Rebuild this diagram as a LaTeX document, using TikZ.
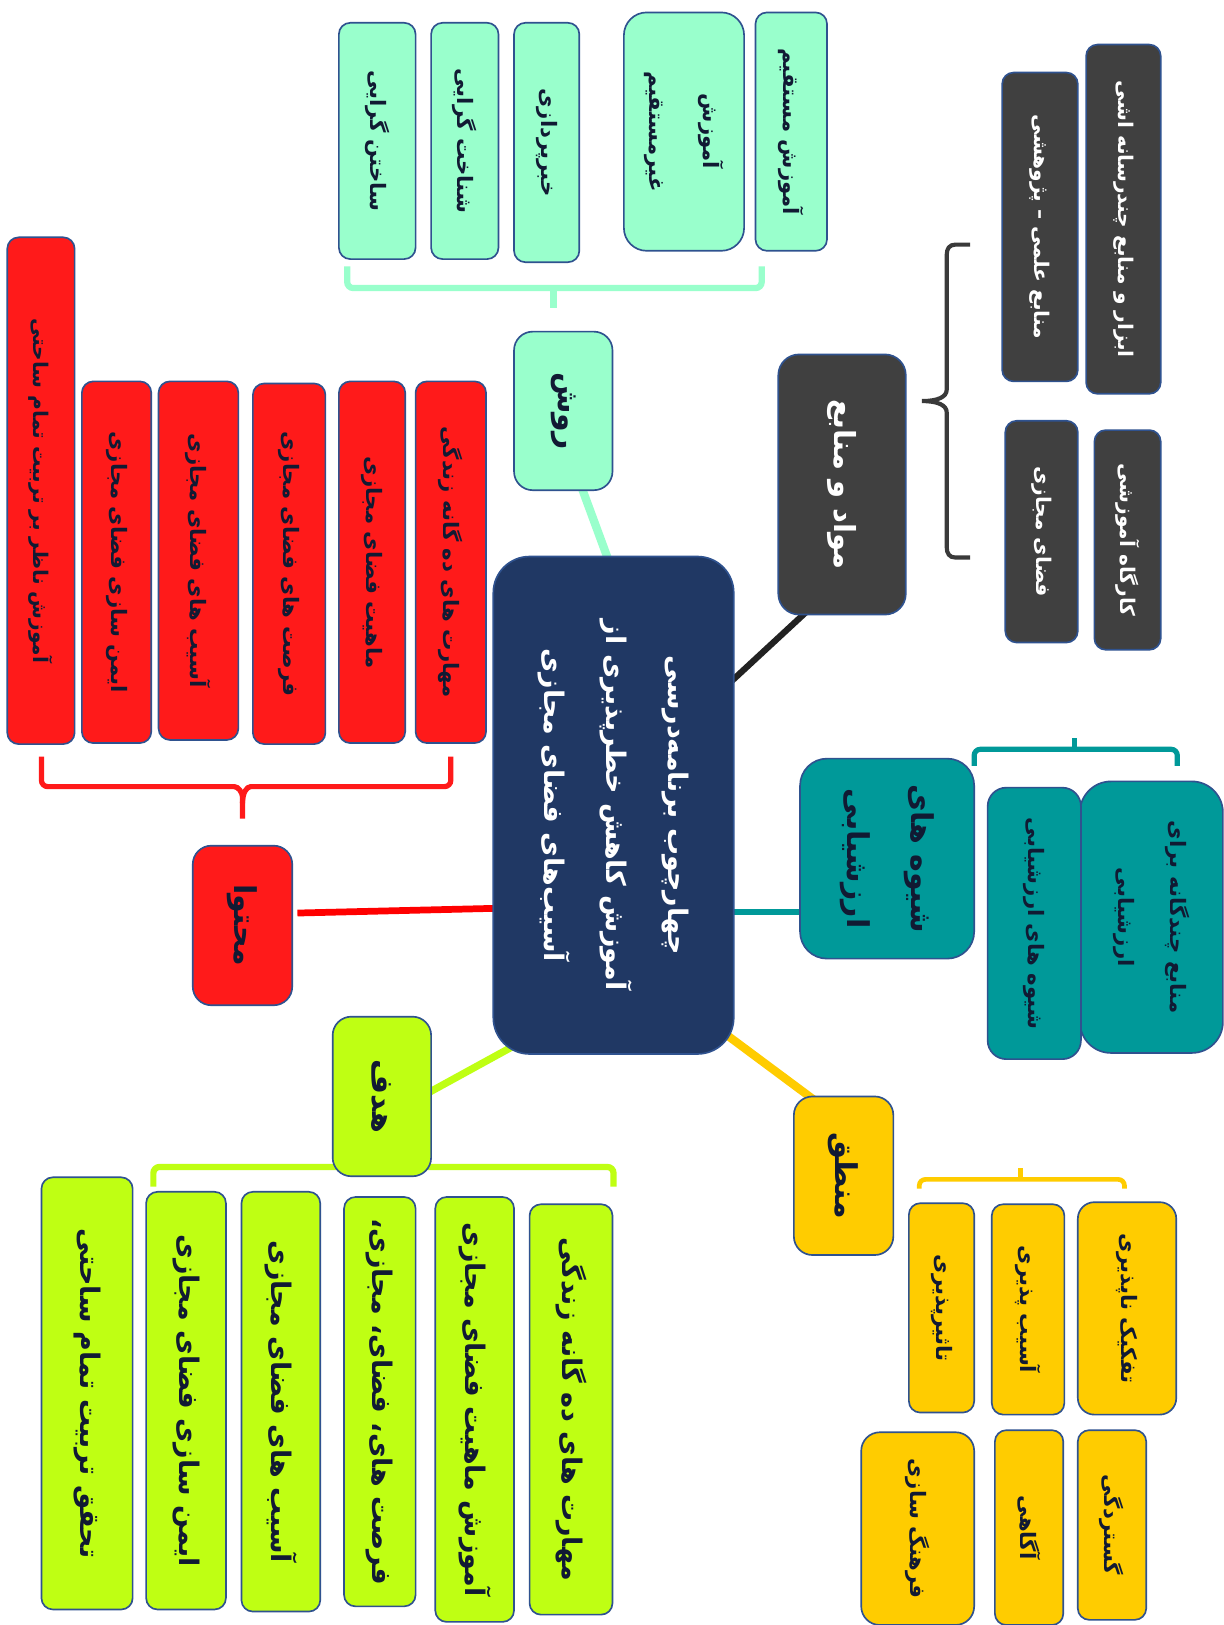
\documentclass[tikz,border=0pt]{standalone}
\usepackage{fontspec}
\newfontfamily\arabicfont[Script=Arabic]{DejaVu Sans}
\TeXXeTstate=1
\usetikzlibrary{calc,backgrounds}
\newcommand{\fa}[1]{\beginR #1\endR}
\newcommand{\fs}[2]{\arabicfont\bfseries\fontsize{#1}{#2}\selectfont}
\definecolor{bord}{HTML}{2F528F}
\definecolor{txt}{HTML}{111A33}
\definecolor{cnavy}{HTML}{203864}
\definecolor{cdark}{HTML}{404040}
\definecolor{cmint}{HTML}{99FFCC}
\definecolor{cred}{HTML}{FF1A1A}
\definecolor{credline}{HTML}{FF0000}
\definecolor{clime}{HTML}{BFFF13}
\definecolor{cyel}{HTML}{FFCC00}
\definecolor{cteal}{HTML}{009999}
\definecolor{cblk}{HTML}{222222}
\begin{document}
\begin{tikzpicture}[x=1pt,y=-1pt,
  bx/.style={draw=bord, line width=1.6pt, rounded corners=11pt, rotate=-90, inner sep=0pt, align=center, text=txt, font=\fs{20.5}{30}},
  hd/.style={bx, rounded corners=18pt, font=\fs{29}{40}},
  conn/.style={line width=#1, line cap=butt},
  brk/.style={line width=#1, rounded corners=6pt}
]
\useasboundingbox (0,0) rectangle (1181,1568);

% central
\node[bx, fill=cnavy, rounded corners=35pt, minimum width=480pt, minimum height=232pt, text=white, font=\fs{26}{60}] (ctr) at (592,777)
 {\fa{چهارچوب برنامه‌درسی}\\\fa{آموزش کاهش خطرپذیری از}\\\fa{آسیب‌های فضای مجازی}};

% mavad o manabe
\node[hd, fill=cdark, text=white, rounded corners=20pt, minimum width=251pt, minimum height=123pt, font=\fs{28}{40}] (mavad) at (812.5,467.5) {\fa{مواد و منابع}};
\node[bx, fill=cdark, text=white, font=\fs{19.5}{30}, minimum width=337pt, minimum height=72pt] (a1) at (1084,211.5) {\fa{ابزار و منابع چندرسانه اشی}};
\node[bx, fill=cdark, text=white, font=\fs{19.5}{30}, minimum width=298pt, minimum height=73pt] (a2) at (1003.5,219) {\fa{منابع علمی – پژوهشی}};
\node[bx, fill=cdark, text=white, font=\fs{19.5}{30}, minimum width=212pt, minimum height=64pt] (a3) at (1088,521) {\fa{کارگاه آموزشی}};
\node[bx, fill=cdark, text=white, font=\fs{19.5}{30}, minimum width=214pt, minimum height=70pt] (a4) at (1005,513) {\fa{فضای مجازی}};

% ravesh
\node[hd, fill=cmint, minimum width=153pt, minimum height=95pt] (ravesh) at (543.5,396.5) {\fa{روش}};
\node[bx, fill=cmint, minimum width=230pt, minimum height=69pt] (m1) at (763.5,127) {\fa{آموزش مستقیم}};
\node[bx, fill=cmint, rounded corners=22pt, minimum width=230pt, minimum height=116pt, font=\fs{20.5}{52}] (m2) at (660,127) {\fa{آموزش}\\\fa{غیرمستقیم}};
\node[bx, fill=cmint, minimum width=231pt, minimum height=63pt] (m3) at (527.5,137.5) {\fa{خبرپردازی}};
\node[bx, fill=cmint, minimum width=228pt, minimum height=65pt] (m4) at (448.5,136) {\fa{شناخت گرایی}};
\node[bx, fill=cmint, minimum width=228pt, minimum height=74pt] (m5) at (364,136) {\fa{ساختن گرایی}};

% mohtava
\node[hd, fill=cred, minimum width=154pt, minimum height=96pt] (mohtava) at (234,893) {\fa{محتوا}};
\node[bx, fill=cred, minimum width=349pt, minimum height=68pt] (r1) at (435,542.5) {\fa{مهارت های ده گانه زندگی}};
\node[bx, fill=cred, minimum width=349pt, minimum height=64pt] (r2) at (359,542.5) {\fa{ماهیت فضای مجازی}};
\node[bx, fill=cred, minimum width=348pt, minimum height=70pt] (r3) at (279,544) {\fa{فرصت های فضای مجازی}};
\node[bx, fill=cred, minimum width=346pt, minimum height=77pt] (r4) at (191.5,541) {\fa{آسیب های فضای مجازی}};
\node[bx, fill=cred, minimum width=349pt, minimum height=67pt] (r5) at (112.5,542.5) {\fa{ایمن سازی فضای مجازی}};
\node[bx, fill=cred, font=\fs{19.5}{30}, minimum width=489pt, minimum height=65pt] (r6) at (39.5,473.5) {\fa{آموزش ناظر بر تربیت تمام ساحتی}};

% hadaf
\node[hd, fill=clime, minimum width=154pt, minimum height=95pt] (hadaf) at (368.5,1058) {\fa{هدف}};
\node[bx, fill=clime, font=\fs{26}{30}, minimum width=396pt, minimum height=80pt] (l1) at (551,1360) {\fa{مهارت های ده گانه زندگی}};
\node[bx, fill=clime, font=\fs{26}{30}, minimum width=410pt, minimum height=76pt] (l2) at (458,1360) {\fa{آموزش ماهیت فضای مجازی}};
\node[bx, fill=clime, font=\fs{26}{30}, minimum width=395pt, minimum height=69pt] (l3) at (366.5,1352.5) {\fa{فرصت های، فضای، مجازی،}};
\node[bx, fill=clime, font=\fs{26}{30}, minimum width=405pt, minimum height=76pt] (l4) at (271,1352.5) {\fa{آسیب های فضای مجازی}};
\node[bx, fill=clime, font=\fs{26}{30}, minimum width=403pt, minimum height=77pt] (l5) at (179.5,1351.5) {\fa{ایمن سازی فضای مجازی}};
\node[bx, fill=clime, font=\fs{26}{30}, minimum width=417pt, minimum height=88pt] (l6) at (84,1344.5) {\fa{تحقق تربیت تمام ساحتی}};

% manteq
\node[hd, fill=cyel, minimum width=153pt, minimum height=96pt] (manteq) at (814,1134.5) {\fa{منطق}};
\node[bx, fill=cyel, rounded corners=16pt, minimum width=205pt, minimum height=95pt] (y1) at (1087.5,1262.5) {\fa{تفکیک ناپذیری}};
\node[bx, fill=cyel, minimum width=203pt, minimum height=70pt] (y2) at (992,1263.5) {\fa{آسیب پذیری}};
\node[bx, fill=cyel, minimum width=202pt, minimum height=63pt] (y3) at (908.5,1262) {\fa{تاثیرپذیری}};
\node[bx, fill=cyel, minimum width=183pt, minimum height=66pt] (y4) at (1073,1471.5) {\fa{گستردگی}};
\node[bx, fill=cyel, minimum width=188pt, minimum height=66pt] (y5) at (993,1474) {\fa{آگاهی}};
\node[bx, fill=cyel, rounded corners=18pt, minimum width=186pt, minimum height=109pt] (y6) at (885.5,1475) {\fa{فرهنگ سازی}};

% arzeshyabi
\node[hd, fill=cteal, rounded corners=26pt, minimum width=193pt, minimum height=168pt, font=\fs{29}{62}] (shive) at (856,828.5) {\fa{شیوه های}\\\fa{ارزشیابی}};
\node[bx, fill=cteal, rounded corners=30pt, minimum width=262pt, minimum height=138pt, font=\fs{20.5}{50}] (t1) at (1111,885) {\fa{منابع چندگانه برای}\\\fa{ارزشیابی}};
\node[bx, fill=cteal, rounded corners=18pt, minimum width=262pt, minimum height=90pt] (t2) at (998,891) {\fa{شیوه های ارزشیابی}};

\begin{scope}[on background layer]
  \fill[white] (0,0) rectangle (1181,1568);
  % connectors
  \draw[conn=6pt, cblk] ($(ctr)+(58,-68)$) -- ($(mavad)+(0,91)$);
  \draw[conn=8pt, cmint] ($(ravesh)+(-9.5,0)$) -- ($(ctr)+(17,-177)$);
  \draw[conn=6.5pt, credline] ($(mohtava)+(53,-12)$) -- ($(ctr)+(-52,98)$);
  \draw[conn=7pt, clime] ($(hadaf)+(0,21)$) -- ($(ctr)+(-52,208)$);
  \draw[conn=8pt, cyel] ($(manteq)+(0,-52)$) -- ($(ctr)+(68,191)$);
  \draw[conn=6pt, cteal] ($(shive)+(0,51.5)$) -- ($(ctr)+(58,103)$);
  % brackets
  \draw[brk=6pt, cmint] (335,257) -- (335,278) -- (735,278) -- (735,257);
  \draw[conn=6pt, cmint] (534,278) -- (534,297);
  \draw[brk=5pt, cred] (40,730) -- (40,759) -- (220,759) .. controls (230,759) and (234,765) .. (234,775) -- (234,790);
  \draw[brk=5pt, cred] (435,730) -- (435,759) -- (248,759) .. controls (238,759) and (234,765) .. (234,775);
  \draw[brk=6pt, clime] (148,1145) -- (148,1126) -- (592,1126) -- (592,1145);
  \draw[conn=6pt, clime] (368,1126) -- (368,1100);
  \draw[brk=4.5pt, cyel] (887,1147) -- (887,1138) -- (1085,1138) -- (1085,1147);
  \draw[conn=4.5pt, cyel] (985,1138) -- (985,1127);
  \draw[brk=5pt, cteal] (940,739) -- (940,723) -- (1136,723) -- (1136,739);
  \draw[conn=5pt, cteal] (1037,723) -- (1037,712);
  \draw[line width=4pt, cdark!90!black] (936,236) -- (922,236) .. controls (916,236) and (913.5,240) .. (913.5,246) -- (913.5,376) .. controls (913.5,383) and (905,387) .. (889.5,387) .. controls (905,387) and (913.5,391) .. (913.5,398) -- (913.5,528) .. controls (913.5,534) and (916,538) .. (922,538) -- (936,538);
\end{scope}
\end{tikzpicture}
\end{document}
